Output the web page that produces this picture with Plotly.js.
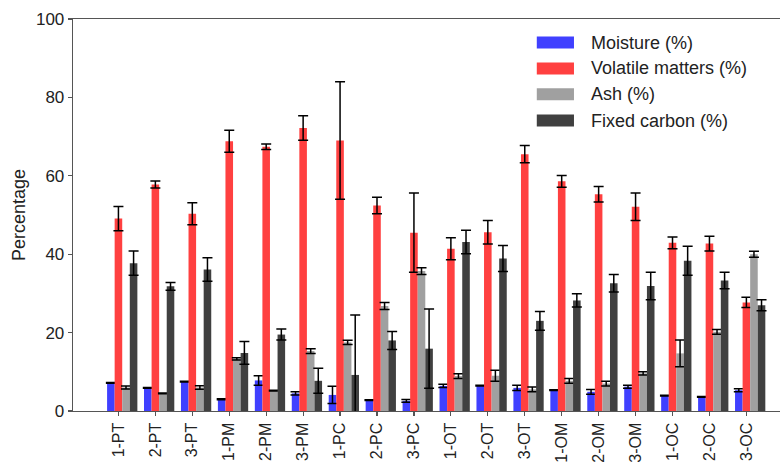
<!DOCTYPE html>
<html>
<head>
<meta charset="utf-8">
<script src="https://cdn.plot.ly/plotly-3.0.1.min.js"></script>
<style>html,body{margin:0;padding:0;background:#fff;}#chart{width:780px;height:462px;}</style>
</head>
<body>
<div id="chart"></div>
<script>
const categories = ['1-PT','2-PT','3-PT','1-PM','2-PM','3-PM','1-PC','2-PC','3-PC','1-OT','2-OT','3-OT','1-OM','2-OM','3-OM','1-OC','2-OC','3-OC'];

const seriesNames = ['Moisture (%)', 'Volatile matters (%)', 'Ash (%)', 'Fixed carbon (%)'];

const moisture    = [7.2, 5.9, 7.5, 3.0, 7.8, 4.5, 4.1, 2.8, 2.6, 6.4, 6.5, 5.9, 5.3, 4.9, 6.2, 3.9, 3.6, 5.3];
const moistureErr = [0.1, 0.1, 0.1, 0.1, 1.2, 0.4, 2.2, 0.1, 0.35, 0.4, 0.1, 0.7, 0.1, 0.6, 0.4, 0.1, 0.1, 0.4];

const volatile    = [49.1, 57.8, 50.3, 68.8, 67.4, 72.2, 69.0, 52.4, 45.5, 41.4, 45.6, 65.5, 58.6, 55.3, 52.1, 42.9, 42.7, 27.7];
const volatileErr = [3.1, 0.9, 2.8, 2.8, 0.7, 3.1, 15.0, 2.1, 10.1, 2.8, 3.0, 2.2, 1.5, 2.0, 3.5, 1.5, 1.9, 1.3];

const ash    = [6.0, 4.5, 6.0, 13.3, 5.2, 15.3, 17.5, 26.8, 35.7, 8.9, 9.0, 5.5, 7.7, 7.0, 9.6, 14.7, 20.2, 40.0];
const ashErr = [0.4, 0.1, 0.45, 0.3, 0.1, 0.6, 0.55, 0.9, 0.85, 0.6, 1.4, 0.6, 0.6, 0.6, 0.4, 3.4, 0.6, 0.75];

const fixedCarbon    = [37.7, 31.8, 36.1, 14.8, 19.5, 7.7, 9.2, 18.0, 15.9, 43.1, 38.9, 23.0, 28.2, 32.6, 31.9, 38.3, 33.3, 27.0];
const fixedCarbonErr = [3.1, 1.0, 3.0, 2.9, 1.4, 3.2, 15.3, 2.3, 10.1, 3.0, 3.3, 2.4, 1.7, 2.25, 3.5, 3.7, 2.1, 1.4];

const yTicks = [0, 20, 40, 60, 80, 100];

const colors = ['#4040ff', '#ff4040', '#a0a0a0', '#404040'];
const values = [moisture, volatile, ash, fixedCarbon];
const errors = [moistureErr, volatileErr, ashErr, fixedCarbonErr];

const barW = 0.205;
const offsets = [-1.5 * barW, -0.5 * barW, 0.5 * barW, 1.5 * barW];

const traces = values.map((v, i) => ({
  type: 'bar',
  name: seriesNames[i],
  x: categories,
  y: v,
  width: barW,
  offset: offsets[i],
  marker: { color: colors[i], line: { width: 0 } },
  error_y: { type: 'data', array: errors[i], visible: true, color: '#000', thickness: 1.5, width: 5 },
  showlegend: false
}));

const font = 'Liberation Sans, Arial, sans-serif';

// manual legend (paper coordinates)
const legX0 = 0.656, legX1 = 0.7086, legTextX = 0.730;
const legY = [0.940, 0.874, 0.808, 0.741];
const legH = 0.0153;
const shapes = seriesNames.map((n, i) => ({
  type: 'rect', xref: 'paper', yref: 'paper',
  x0: legX0, x1: legX1, y0: legY[i] - legH, y1: legY[i] + legH,
  fillcolor: colors[i], line: { width: 0 }
}));
const annotations = seriesNames.map((n, i) => ({
  xref: 'paper', yref: 'paper', x: legTextX, y: legY[i],
  xanchor: 'left', yanchor: 'middle', text: n, showarrow: false,
  font: { family: font, size: 18, color: '#222' }
}));

const layout = {
  width: 780, height: 462,
  margin: { l: 73, r: 0, t: 18.5, b: 51 },
  paper_bgcolor: '#fff', plot_bgcolor: '#fff',
  barmode: 'overlay',
  font: { family: font, size: 17, color: '#222' },
  xaxis: {
    type: 'category',
    range: [-1.23, 17.91],
    showline: true, mirror: true, linecolor: '#555', linewidth: 1.3,
    ticks: 'outside', ticklen: 4, tickwidth: 1.2, tickcolor: '#555',
    tickangle: -90, tickfont: { family: font, size: 16, color: '#222' },
    showgrid: false, zeroline: false, fixedrange: true
  },
  yaxis: {
    range: [0, 100],
    tickvals: yTicks, ticktext: yTicks.map(String),
    showline: true, mirror: false, linecolor: '#555', linewidth: 1.3,
    ticks: 'outside', ticklen: 4, tickwidth: 1.2, tickcolor: '#555',
    tickfont: { family: font, size: 17, color: '#222' },
    showgrid: false, zeroline: false,
    title: { text: 'Percentage', font: { family: font, size: 18, color: '#222' }, standoff: 5 }
  },
  shapes: shapes,
  annotations: annotations
};

Plotly.newPlot('chart', traces, layout, { displayModeBar: false, staticPlot: true });
</script>
</body>
</html>
